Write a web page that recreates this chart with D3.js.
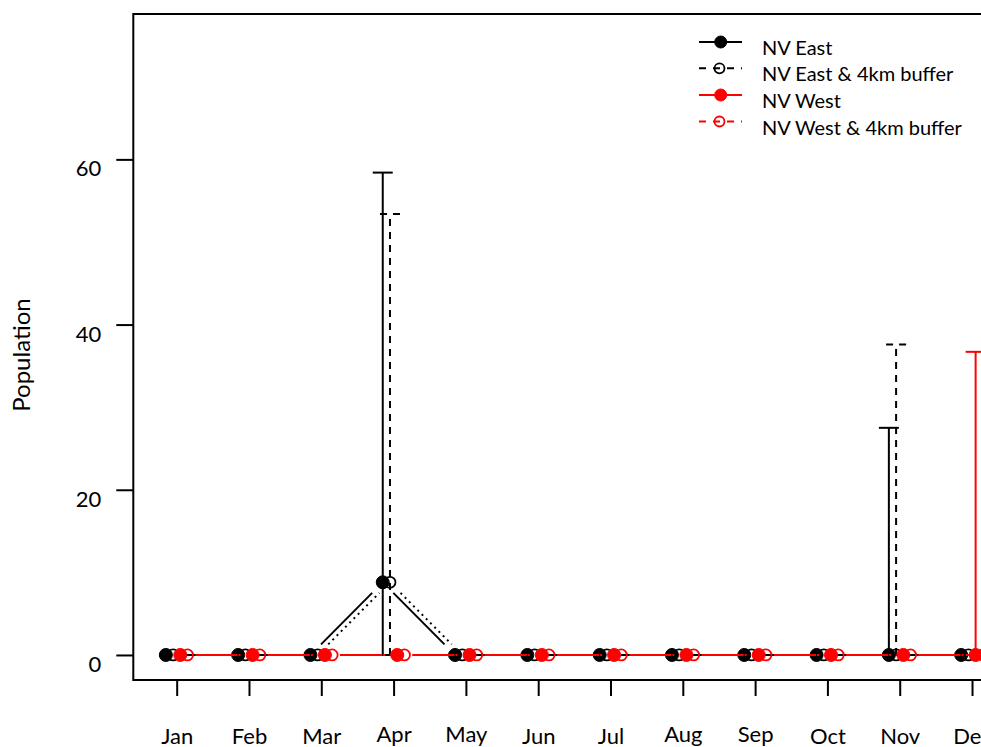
<!DOCTYPE html>
<html>
<head>
<meta charset="utf-8">
<script src="https://cdn.jsdelivr.net/npm/d3@7"></script>
<style>
  html, body { margin: 0; padding: 0; background: #fff; }
  svg { display: block; }
</style>
</head>
<body>
<div id="chart"></div>
<script>
// ---------------- data ----------------
const months = ["Jan","Feb","Mar","Apr","May","Jun","Jul","Aug","Sep","Oct","Nov","Dec"];
const yTicks = [0, 20, 40, 60];

const eastMean      = [0, 0, 0, 8.8, 0, 0, 0, 0, 0, 0, 0, 0];
const eastBufMean   = [0, 0, 0, 8.8, 0, 0, 0, 0, 0, 0, 0, 0];
const westMean      = [0, 0, 0, 0,   0, 0, 0, 0, 0, 0, 0, 0];
const westBufMean   = [0, 0, 0, 0,   0, 0, 0, 0, 0, 0, 0, 0];

const eastUpper     = [null, null, null, 58.4, null, null, null, null, null, null, 27.5, null];
const eastBufUpper  = [null, null, null, 53.4, null, null, null, null, null, null, 37.6, null];
const westUpper     = [null, null, null, null, null, null, null, null, null, null, null, 36.7];
const westBufUpper  = [null, null, null, null, null, null, null, null, null, null, null, null];

const eastLower     = [null, null, null, 0, null, null, null, null, null, null, 0, null];
const eastBufLower  = [null, null, null, 0, null, null, null, null, null, null, 0, null];
const westLower     = [null, null, null, null, null, null, null, null, null, null, null, 0];
const westBufLower  = [null, null, null, null, null, null, null, null, null, null, null, null];

const seriesNames = ["NV East", "NV East & 4km buffer", "NV West", "NV West & 4km buffer"];

// ---------------- layout ----------------
const W = 981, H = 747;
const FONT = "Lato, 'Open Sans', sans-serif";
const RED = "#ff0000";

const x = d3.scaleLinear().domain([0.4, 12.6]).range([133.3, 1015.4]);
const y = d3.scaleLinear().domain([-3.03, 77.6]).range([680, 14]);

const series = [
  { name: seriesNames[0], mean: eastMean,    up: eastUpper,    lo: eastLower,    dodge: -0.15, color: "#000", filled: true,  lineDash: null,  barDash: null },
  { name: seriesNames[1], mean: eastBufMean, up: eastBufUpper, lo: eastBufLower, dodge: -0.05, color: "#000", filled: false, lineDash: "2,4", barDash: "7,6" },
  { name: seriesNames[2], mean: westMean,    up: westUpper,    lo: westLower,    dodge:  0.05, color: RED,    filled: true,  lineDash: null,  barDash: null },
  { name: seriesNames[3], mean: westBufMean, up: westBufUpper, lo: westBufLower, dodge:  0.15, color: RED,    filled: false, lineDash: "2,4", barDash: "7,6" }
];

const svg = d3.select("#chart").append("svg")
  .attr("width", W).attr("height", H)
  .attr("viewBox", `0 0 ${W} ${H}`);

// ink-centering helper
const mctx = document.createElement("canvas").getContext("2d");
function inkShift(text, size) {
  mctx.font = `${size}px Lato`;
  const m = mctx.measureText(text);
  return (m.actualBoundingBoxAscent - m.actualBoundingBoxDescent) / 2;
}

// frame
svg.append("rect")
  .attr("x", x.range()[0]).attr("y", y.range()[1])
  .attr("width", x.range()[1] - x.range()[0])
  .attr("height", y.range()[0] - y.range()[1])
  .attr("fill", "none").attr("stroke", "#000").attr("stroke-width", 2);

// y axis
const yAxis = svg.append("g")
  .attr("transform", `translate(${x.range()[0]},0)`)
  .call(d3.axisLeft(y).tickValues(yTicks).tickSize(17).tickFormat(d3.format("d")));
yAxis.select(".domain").remove();
yAxis.selectAll(".tick line").attr("stroke", "#000").attr("stroke-width", 2);
yAxis.selectAll(".tick text")
  .attr("font-family", FONT).attr("font-size", 22).attr("fill", "#000")
  .attr("x", -32).attr("dy", null)
  .attr("y", d => 9 + inkShift(String(d), 22))
  .attr("text-anchor", "end");

// x axis
const xAxis = svg.append("g")
  .attr("transform", `translate(0,${y.range()[0]})`)
  .call(d3.axisBottom(x).tickValues(d3.range(1, 13)).tickSize(16).tickFormat(i => months[i - 1]));
xAxis.select(".domain").remove();
xAxis.selectAll(".tick line").attr("stroke", "#000").attr("stroke-width", 2);
xAxis.selectAll(".tick text")
  .attr("font-family", FONT).attr("font-size", 22).attr("fill", "#000")
  .attr("dy", null)
  .attr("y", i => 56 + inkShift(months[i - 1], 22))
  .attr("text-anchor", "middle");

// y axis title
{
  const t = "Population";
  const cx = 23, cy = 355;
  svg.append("text")
    .attr("transform", `translate(${cx + inkShift(t, 24)},${cy}) rotate(-90)`)
    .attr("text-anchor", "middle")
    .attr("font-family", FONT).attr("font-size", 24).attr("fill", "#000")
    .text(t);
}

// type "b" segments with gaps around points
const GAP = 15;
function gapSegments(pts) {
  const segs = [];
  for (let i = 0; i < pts.length - 1; i++) {
    const [x0, y0] = pts[i], [x1, y1] = pts[i + 1];
    const dx = x1 - x0, dy = y1 - y0, len = Math.hypot(dx, dy);
    if (len > 2 * GAP) {
      const ux = dx / len, uy = dy / len;
      segs.push([x0 + ux * GAP, y0 + uy * GAP, x1 - ux * GAP, y1 - uy * GAP]);
    }
  }
  return segs;
}

const plot = svg.append("g");
const CAP = 10;

series.forEach(s => {
  const g = plot.append("g");
  const pts = s.mean.map((v, i) => [x(i + 1 + s.dodge), y(v)]);

  // connecting lines
  g.selectAll("line.seg").data(gapSegments(pts)).join("line")
    .attr("class", "seg")
    .attr("x1", d => d[0]).attr("y1", d => d[1])
    .attr("x2", d => d[2]).attr("y2", d => d[3])
    .attr("stroke", s.color).attr("stroke-width", 2)
    .attr("stroke-dasharray", s.lineDash);

  // error bars
  const bars = s.up.map((u, i) => ({ i, u, l: s.lo[i] })).filter(d => d.u != null);
  bars.forEach(d => {
    const bx = x(d.i + 1 + s.dodge);
    const bg = g.append("g")
      .attr("stroke", s.color).attr("stroke-width", 2)
      .attr("stroke-dasharray", s.barDash).attr("fill", "none");
    bg.append("line").attr("x1", bx).attr("x2", bx).attr("y1", y(d.l)).attr("y2", y(d.u));
    bg.append("line").attr("x1", bx - CAP).attr("x2", bx + CAP).attr("y1", y(d.u)).attr("y2", y(d.u));
    bg.append("line").attr("x1", bx - CAP).attr("x2", bx + CAP).attr("y1", y(d.l)).attr("y2", y(d.l));
  });

  // points
  g.selectAll("circle").data(pts).join("circle")
    .attr("cx", d => d[0]).attr("cy", d => d[1])
    .attr("r", s.filled ? 6.5 : 5.5)
    .attr("fill", s.filled ? s.color : "none")
    .attr("stroke", s.color)
    .attr("stroke-width", s.filled ? 1 : 1.8);
});

// legend
const legX0 = 699, legX1 = 742, legPt = 720.7, legTextX = 762;
const legY = [42, 68.3, 95, 121.5];
const leg = svg.append("g");
series.forEach((s, k) => {
  const ly = legY[k];
  leg.append("line")
    .attr("x1", legX0).attr("x2", legX1).attr("y1", ly).attr("y2", ly)
    .attr("stroke", s.color).attr("stroke-width", 2)
    .attr("stroke-dasharray", s.filled ? null : "7,7");
  leg.append("circle")
    .attr("cx", s.filled ? legPt : 719.5).attr("cy", ly)
    .attr("r", s.filled ? 6 : 5)
    .attr("fill", s.filled ? s.color : "none")
    .attr("stroke", s.color).attr("stroke-width", s.filled ? 1 : 1.8);
  leg.append("text")
    .attr("x", legTextX)
    .attr("y", ly + 6 + inkShift("NV", 20))
    .attr("font-family", FONT).attr("font-size", 20).attr("fill", "#000")
    .text(s.name);
});
</script>
</body>
</html>
